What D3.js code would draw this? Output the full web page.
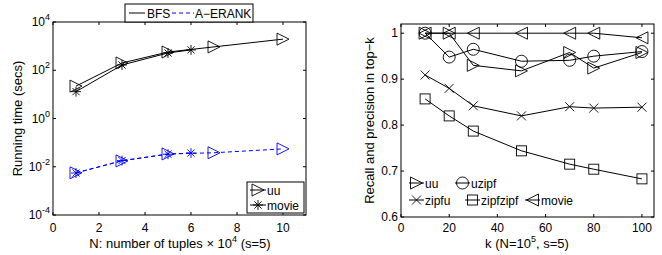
<!DOCTYPE html>
<html><head><meta charset="utf-8">
<script src="https://cdn.jsdelivr.net/npm/d3@7"></script>
<style>body{margin:0;background:#fff}svg{display:block;font-family:"Liberation Sans",Arial,sans-serif}</style>
</head><body><svg id="c" width="662" height="255"></svg>
<script>
// ---- Left chart data ----
const nUU = [1, 3, 5, 7, 10];
const nMovie = [1, 3, 5, 6];
const bfsUU = [22, 200, 570, 930, 1950];
const bfsMovie = [13, 165, 520, 700];
const aerankUU = [0.0056, 0.0175, 0.034, 0.038, 0.055];
const aerankMovie = [0.0055, 0.018, 0.033, 0.037];
const leftXTicks = [0, 2, 4, 6, 8, 10];
const leftYExps = [-4, -2, 0, 2, 4];
// ---- Right chart data ----
const kVals = [10, 20, 30, 50, 70, 80, 100];
const recUU = [1, 1, 0.93, 0.918, 0.958, 0.924, 0.958];
const recUzipf = [1, 0.948, 0.965, 0.939, 0.941, 0.95, 0.96];
const recZipfu = [0.909, 0.88, 0.842, 0.82, 0.84, 0.837, 0.839];
const recZipfzipf = [0.857, 0.82, 0.787, 0.744, 0.715, 0.704, 0.683];
const recMovie = [1, 1, 1, 1, 1, 1, 0.99];
const rightXTicks = [0, 20, 40, 60, 80, 100];
const rightYTicks = [0.6, 0.7, 0.8, 0.9, 1];

const svg = d3.select("#c");
const FS = 12, LFS = 13, SUP = 9;

function marker(g, type, x, y, color) {
  const s = 6;
  let el;
  if (type === "tright") el = g.append("path").attr("d", `M${x-s},${y-s}L${x+s},${y}L${x-s},${y+s}Z`);
  else if (type === "tleft") el = g.append("path").attr("d", `M${x+s},${y-s}L${x-s},${y}L${x+s},${y+s}Z`);
  else if (type === "circle") el = g.append("circle").attr("cx", x).attr("cy", y).attr("r", s);
  else if (type === "square") el = g.append("rect").attr("x", x-5).attr("y", y-5).attr("width", 10).attr("height", 10);
  else if (type === "x") { const a = 4.5; el = g.append("path").attr("d", `M${x-a},${y-a}L${x+a},${y+a}M${x-a},${y+a}L${x+a},${y-a}`); }
  else if (type === "star") { const a = 5, b = 3.6; el = g.append("path").attr("d", `M${x-a},${y}L${x+a},${y}M${x},${y-a}L${x},${y+a}M${x-b},${y-b}L${x+b},${y+b}M${x-b},${y+b}L${x+b},${y-b}`); }
  el.attr("fill", "none").attr("stroke", color).attr("stroke-width", 0.9);
}

function frame(x0, y0, x1, y1) {
  svg.append("rect").attr("x", x0).attr("y", y0).attr("width", x1-x0).attr("height", y1-y0)
    .attr("fill", "none").attr("stroke", "#000").attr("stroke-width", 1);
}

// ================= LEFT =================
const L = {x0: 53, x1: 306, y0: 22, y1: 215};
const lx = d3.scaleLinear().domain([0, 11]).range([L.x0, L.x1]);
const ly = d3.scaleLog().domain([1e-4, 1e4]).range([L.y1, L.y0]);
const lg = svg.append("g");
frame(L.x0, L.y0, L.x1, L.y1);
leftXTicks.forEach(t => {
  const x = lx(t);
  lg.append("line").attr("x1", x).attr("x2", x).attr("y1", L.y1).attr("y2", L.y1-3).attr("stroke", "#000");
  lg.append("line").attr("x1", x).attr("x2", x).attr("y1", L.y0).attr("y2", L.y0+3).attr("stroke", "#000");
  lg.append("text").attr("x", x).attr("y", L.y1+17).attr("text-anchor", "middle").attr("font-size", FS).text(t);
});
leftYExps.forEach(e => {
  const y = ly(Math.pow(10, e));
  lg.append("line").attr("x1", L.x0).attr("x2", L.x0+3).attr("y1", y).attr("y2", y).attr("stroke", "#000");
  lg.append("line").attr("x1", L.x1).attr("x2", L.x1-3).attr("y1", y).attr("y2", y).attr("stroke", "#000");
  const t = lg.append("text").attr("x", L.x0-3).attr("y", y+4).attr("text-anchor", "end").attr("font-size", FS);
  t.append("tspan").text("10");
  t.append("tspan").attr("dy", -6).attr("font-size", SUP).text(e);
});
lg.append("text").attr("transform", `translate(22,${(L.y0+L.y1)/2}) rotate(-90)`).attr("text-anchor", "middle")
  .attr("font-size", LFS).text("Running time (secs)");
{
  const t = lg.append("text").attr("x", 180).attr("y", 248).attr("text-anchor", "middle").attr("font-size", LFS);
  t.append("tspan").text("N: number of tuples \u00d7 10");
  t.append("tspan").attr("dy", -6).attr("font-size", SUP).text("4");
  t.append("tspan").attr("dy", 6).text(" (s=5)");
}
const lline = d3.line();
function drawSeries(g, xs, ys, xsc, ysc, color, dash, mtype) {
  const pts = xs.map((v, i) => [xsc(v), ysc(ys[i])]);
  g.append("path").attr("d", lline(pts)).attr("fill", "none").attr("stroke", color)
    .attr("stroke-width", 1).attr("stroke-dasharray", dash || null);
  pts.forEach(p => marker(g, mtype, p[0], p[1], color));
}
drawSeries(lg, nUU, bfsUU, lx, ly, "#000", null, "tright");
drawSeries(lg, nMovie, bfsMovie, lx, ly, "#000", null, "star");
drawSeries(lg, nUU, aerankUU, lx, ly, "#0000ff", "4,3", "tright");
drawSeries(lg, nMovie, aerankMovie, lx, ly, "#0000ff", "4,3", "star");

// Top legend
svg.append("rect").attr("x", 125).attr("y", 4).attr("width", 128).attr("height", 18).attr("fill", "#fff").attr("stroke", "#000");
svg.append("line").attr("x1", 129).attr("x2", 145).attr("y1", 13).attr("y2", 13).attr("stroke", "#000");
svg.append("text").attr("x", 147).attr("y", 17.5).attr("font-size", FS).text("BFS");
svg.append("line").attr("x1", 172).attr("x2", 194).attr("y1", 13).attr("y2", 13).attr("stroke", "#0000ff").attr("stroke-dasharray", "4,3");
svg.append("text").attr("x", 195).attr("y", 17.5).attr("font-size", FS).text("A\u2212ERANK");

// Inner legend left
svg.append("rect").attr("x", 247).attr("y", 182).attr("width", 57).attr("height", 31).attr("fill", "#fff").attr("stroke", "#000");
[["tright", "uu", 190], ["star", "movie", 205]].forEach(([m, txt, y]) => {
  svg.append("line").attr("x1", 250).attr("x2", 266).attr("y1", y).attr("y2", y).attr("stroke", "#000");
  marker(svg, m, 258, y, "#000");
  svg.append("text").attr("x", 267).attr("y", y+4.5).attr("font-size", FS).text(txt);
});

// ================= RIGHT =================
const R = {x0: 401, x1: 654, y0: 24, y1: 217};
const rx = d3.scaleLinear().domain([0, 105]).range([R.x0, R.x1]);
const ry = d3.scaleLinear().domain([0.6, 1.02]).range([R.y1, R.y0]);
const rg = svg.append("g");
frame(R.x0, R.y0, R.x1, R.y1);
rightXTicks.forEach(t => {
  const x = rx(t);
  rg.append("line").attr("x1", x).attr("x2", x).attr("y1", R.y1).attr("y2", R.y1-3).attr("stroke", "#000");
  rg.append("line").attr("x1", x).attr("x2", x).attr("y1", R.y0).attr("y2", R.y0+3).attr("stroke", "#000");
  rg.append("text").attr("x", x).attr("y", R.y1+15).attr("text-anchor", "middle").attr("font-size", FS).text(t);
});
rightYTicks.forEach(t => {
  const y = ry(t);
  rg.append("line").attr("x1", R.x0).attr("x2", R.x0+3).attr("y1", y).attr("y2", y).attr("stroke", "#000");
  rg.append("line").attr("x1", R.x1).attr("x2", R.x1-3).attr("y1", y).attr("y2", y).attr("stroke", "#000");
  rg.append("text").attr("x", R.x0-3).attr("y", y+4).attr("text-anchor", "end").attr("font-size", FS).text(t === 1 ? "1" : t.toFixed(1));
});
rg.append("text").attr("transform", `translate(374,${(R.y0+R.y1)/2}) rotate(-90)`).attr("text-anchor", "middle")
  .attr("font-size", LFS).text("Recall and precision in top\u2212k");
{
  const t = rg.append("text").attr("x", 527).attr("y", 248).attr("text-anchor", "middle").attr("font-size", LFS);
  t.append("tspan").text("k (N=10");
  t.append("tspan").attr("dy", -6).attr("font-size", SUP).text("5");
  t.append("tspan").attr("dy", 6).text(", s=5)");
}
drawSeries(rg, kVals, recMovie, rx, ry, "#000", null, "tleft");
drawSeries(rg, kVals, recUU, rx, ry, "#000", null, "tright");
drawSeries(rg, kVals, recUzipf, rx, ry, "#000", null, "circle");
drawSeries(rg, kVals, recZipfu, rx, ry, "#000", null, "x");
drawSeries(rg, kVals, recZipfzipf, rx, ry, "#000", null, "square");

// Right legend
[[409, 183, "tright", "uu"], [455, 183, "circle", "uzipf"],
 [409, 200, "x", "zipfu"], [465, 200, "square", "zipfzipf"], [525, 200, "tleft", "movie"]].forEach(([x, y, m, txt]) => {
  svg.append("line").attr("x1", x).attr("x2", x+15).attr("y1", y).attr("y2", y).attr("stroke", "#000");
  marker(svg, m, x+7.5, y, "#000");
  svg.append("text").attr("x", x+16).attr("y", y+4.5).attr("font-size", FS).text(txt);
});
</script></body></html>
